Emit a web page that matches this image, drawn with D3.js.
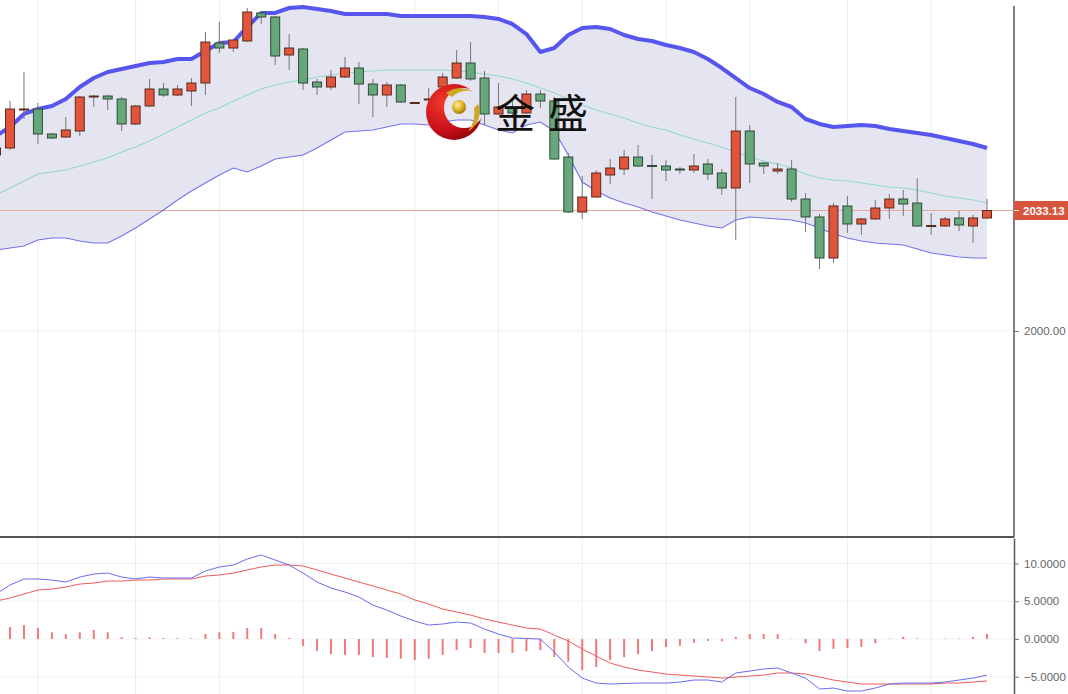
<!DOCTYPE html>
<html><head><meta charset="utf-8">
<script src="https://cdn.jsdelivr.net/npm/d3@7"></script>
<style>html,body{margin:0;padding:0;background:#fff;overflow:hidden}</style>
</head><body><svg id="c" width="1068" height="694"></svg>
<script>
const opens=[2048.39,2050.32,2060.90,2061.04,2054.17,2053.34,2054.99,2064.34,2064.61,2063.79,2056.92,2061.87,2066.54,2064.89,2065.99,2068.19,2079.19,2077.81,2079.74,2087.44,2086.34,2075.89,2077.54,2068.46,2067.09,2069.84,2072.31,2067.91,2064.89,2067.64,2062.69,2063.65,2067.09,2069.56,2073.69,2069.56,2059.67,2061.59,2059.94,2065.16,2063.24,2047.84,2032.72,2036.84,2042.89,2044.54,2047.84,2045.51,2045.37,2044.54,2044.27,2045.92,2043.44,2039.32,2054.99,2046.19,2043.99,2044.54,2036.29,2031.35,2020.07,2034.37,2029.42,2030.80,2033.82,2036.29,2035.19,2028.87,2028.87,2031.07,2028.87,2031.07];
const highs=[2050.87,2063.24,2071.21,2062.69,2054.44,2058.84,2064.61,2064.89,2064.89,2064.34,2062.14,2069.29,2068.19,2067.64,2069.56,2082.21,2084.96,2080.29,2088.81,2087.71,2086.61,2081.66,2077.81,2069.29,2071.76,2075.34,2073.96,2069.29,2068.46,2067.91,2062.97,2066.81,2070.94,2077.26,2079.46,2071.49,2068.19,2063.52,2066.26,2066.26,2064.34,2048.94,2042.62,2044.27,2047.29,2049.77,2051.14,2048.39,2047.02,2045.09,2048.67,2047.29,2044.54,2064.34,2056.64,2046.47,2046.19,2047.02,2037.94,2032.17,2035.19,2037.12,2031.07,2036.02,2037.67,2038.77,2042.07,2032.45,2031.35,2032.99,2031.89,2036.29];
const lows=[2047.84,2049.77,2058.29,2051.42,2052.79,2053.07,2053.62,2061.59,2060.77,2054.99,2056.64,2061.59,2064.34,2064.61,2061.87,2064.89,2076.44,2076.71,2079.46,2084.41,2073.14,2071.76,2066.26,2064.89,2066.26,2069.56,2062.42,2058.84,2061.59,2062.69,2062.42,2062.42,2064.89,2069.29,2068.74,2056.64,2059.39,2058.57,2059.67,2061.32,2047.15,2032.45,2030.80,2036.71,2040.42,2042.89,2045.09,2036.29,2041.24,2043.17,2043.44,2041.52,2037.40,2025.02,2040.69,2043.17,2043.17,2035.47,2027.22,2017.05,2018.70,2026.94,2026.40,2030.66,2030.80,2031.62,2028.73,2026.40,2028.60,2027.50,2024.20,2030.80];
const closes=[2050.32,2061.04,2061.04,2054.17,2053.07,2055.27,2064.34,2064.61,2063.79,2056.92,2061.87,2066.54,2064.89,2066.54,2068.19,2079.46,2077.81,2080.01,2087.71,2086.34,2075.61,2077.81,2068.19,2067.09,2069.84,2072.31,2067.91,2064.89,2067.64,2062.97,2062.83,2063.79,2069.84,2073.69,2069.29,2059.67,2061.59,2059.94,2065.16,2063.24,2047.29,2032.72,2036.84,2043.44,2044.82,2047.84,2045.37,2045.37,2044.27,2044.46,2045.37,2043.17,2039.32,2054.99,2045.92,2045.37,2044.54,2036.29,2031.35,2020.07,2034.37,2029.42,2030.80,2033.82,2036.29,2034.92,2028.87,2029.01,2030.80,2029.14,2031.07,2033.13];
const bollUpper=[2053.62,2056.09,2059.67,2061.04,2061.87,2063.79,2067.09,2069.56,2071.21,2072.04,2072.86,2073.69,2073.96,2074.79,2074.79,2076.99,2079.19,2079.46,2083.59,2087.44,2087.44,2088.81,2089.09,2088.54,2087.99,2087.16,2087.16,2087.16,2087.16,2086.61,2086.61,2086.61,2086.61,2086.61,2086.61,2086.34,2085.79,2084.41,2081.66,2076.71,2077.81,2081.39,2083.31,2083.59,2083.04,2081.39,2080.29,2079.74,2078.64,2077.81,2076.71,2074.79,2072.31,2069.56,2066.81,2065.16,2062.97,2061.59,2058.29,2056.92,2056.09,2056.37,2056.64,2056.37,2055.54,2054.99,2054.44,2053.89,2053.07,2052.24,2051.42,2050.32];
const bollMiddle=[2037.39,2039.32,2041.24,2043.17,2043.72,2044.27,2045.37,2046.47,2047.57,2049.22,2050.59,2052.24,2054.17,2056.09,2058.02,2059.94,2061.32,2063.24,2064.89,2066.54,2067.64,2068.46,2069.01,2069.84,2070.39,2070.94,2071.21,2071.49,2071.76,2071.76,2071.76,2071.76,2071.76,2071.49,2071.21,2070.66,2070.11,2069.29,2068.19,2066.81,2065.44,2063.79,2062.14,2060.77,2059.67,2058.57,2057.19,2056.09,2055.27,2053.89,2052.79,2051.69,2050.59,2049.22,2047.84,2046.74,2045.92,2044.82,2043.17,2042.07,2041.52,2041.24,2040.69,2040.14,2039.59,2039.32,2038.77,2037.94,2037.12,2036.57,2036.02,2035.19];
const bollLower=[2022.27,2022.82,2023.37,2025.02,2025.57,2025.57,2024.74,2024.19,2024.19,2026.12,2028.32,2030.80,2033.27,2036.02,2038.50,2040.69,2042.89,2044.82,2043.72,2045.37,2047.29,2047.84,2048.39,2050.32,2052.52,2054.72,2054.99,2055.27,2056.09,2056.92,2056.92,2056.64,2057.47,2058.02,2058.02,2056.64,2055.27,2054.44,2056.64,2057.47,2054.99,2048.39,2040.97,2038.50,2036.57,2035.19,2034.09,2032.72,2031.62,2030.52,2029.70,2028.87,2028.32,2030.52,2031.35,2031.07,2030.80,2030.52,2029.70,2028.32,2026.67,2025.57,2024.74,2024.19,2023.92,2023.65,2022.55,2021.45,2020.90,2020.35,2020.08,2020.08];
const macdDif=[5.96,7.15,7.95,7.95,7.81,7.55,8.21,8.61,8.74,8.21,7.95,8.21,8.08,8.08,8.08,9.01,9.54,9.80,10.60,11.13,10.46,9.80,8.74,7.55,6.75,6.23,5.56,4.50,3.84,3.05,2.38,1.85,1.99,2.25,2.12,1.32,0.66,0.13,0.07,0.0,-1.72,-3.71,-5.17,-5.83,-5.96,-5.89,-5.83,-5.83,-5.83,-5.70,-5.43,-5.43,-5.70,-4.50,-4.24,-3.97,-3.84,-4.50,-5.17,-6.62,-6.49,-6.89,-6.89,-6.49,-5.96,-5.83,-5.83,-5.83,-5.70,-5.43,-5.17,-4.77];
const macdDea=[5.03,5.43,5.96,6.49,6.62,6.89,7.28,7.42,7.68,7.68,7.81,7.81,7.95,7.95,7.95,8.34,8.48,8.74,9.14,9.54,9.80,9.80,9.67,9.14,8.61,8.08,7.55,7.02,6.49,5.96,5.17,4.64,3.97,3.58,3.18,2.65,2.25,1.85,1.46,1.32,0.53,-0.26,-1.32,-2.25,-3.18,-3.71,-4.11,-4.37,-4.64,-4.77,-4.90,-5.03,-5.17,-5.03,-4.90,-4.77,-4.50,-4.50,-4.64,-5.03,-5.43,-5.70,-5.96,-5.96,-5.96,-5.96,-5.96,-5.96,-5.83,-5.83,-5.70,-5.56];
const macdHist=[1.3,1.6,1.85,1.45,0.9,0.65,0.9,1.2,0.9,0.25,0.13,0.25,0.12,0.1,0.1,0.65,0.9,0.95,1.45,1.45,0.65,0.15,-0.9,-1.6,-2.0,-2.1,-2.1,-2.4,-2.5,-2.6,-2.8,-2.6,-2.1,-1.45,-1.2,-1.85,-1.85,-1.85,-1.6,-1.45,-2.4,-3.0,-4.1,-3.7,-2.8,-2.4,-2.0,-1.6,-1.05,-0.9,-0.5,-0.25,-0.3,0.3,0.65,0.65,0.65,0.05,-0.55,-1.6,-1.3,-1.2,-1.05,-0.55,0.05,0.3,0.07,0.03,0.05,0.05,0.3,0.65];
const gridIdx=[3,10,16,22,30,36,42,48,54,61,67];
const priceTicks=[2000];
const macdTicks=[10,5,0,-5];
const lastPrice=2033.13;
const brandText="金盛";

const svg=d3.select('#c');
const AX=1014, MAIN_B=537, MACD_T=538, H=694;
const idx=d3.range(opens.length);
const x=d3.scaleLinear().domain([1,71]).range([10,987]);
const y=d3.scaleLinear().domain([1943.36,2091.01]).range([MAIN_B,0]);
const ym=d3.scaleLinear().domain([-7.28,13.38]).range([H,MACD_T]);

const defs=svg.append('defs');
defs.append('clipPath').attr('id','cm').append('rect').attr('x',0).attr('y',0).attr('width',AX).attr('height',MAIN_B);
defs.append('clipPath').attr('id','cd').append('rect').attr('x',0).attr('y',MACD_T).attr('width',AX).attr('height',H-MACD_T);

// grids
const gGrid=svg.append('g');
gridIdx.forEach(i=>{
  gGrid.append('line').attr('x1',x(i)).attr('x2',x(i)).attr('y1',0).attr('y2',H).attr('stroke','#e9eef2').attr('stroke-width',1);
});
priceTicks.forEach(p=>gGrid.append('line').attr('x1',0).attr('x2',AX).attr('y1',y(p)).attr('y2',y(p)).attr('stroke','#e9eef2'));
macdTicks.forEach(v=>gGrid.append('line').attr('x1',0).attr('x2',AX).attr('y1',ym(v)).attr('y2',ym(v)).attr('stroke','#eef1f4'));

// main panel
const gm=svg.append('g').attr('clip-path','url(#cm)');
gm.append('path').datum(idx)
  .attr('d',d3.area().x(i=>x(i)).y0(i=>y(bollLower[i])).y1(i=>y(bollUpper[i])))
  .attr('fill','#e5e5f1');
gm.append('line').attr('x1',0).attr('x2',AX).attr('y1',y(lastPrice)).attr('y2',y(lastPrice)).attr('stroke','#e9a898').attr('stroke-width',1);
gm.append('path').datum(idx).attr('d',d3.line().x(i=>x(i)).y(i=>y(bollMiddle[i])))
  .attr('fill','none').attr('stroke','#93d9cc').attr('stroke-width',1.2);
gm.append('path').datum(idx).attr('d',d3.line().x(i=>x(i)).y(i=>y(bollLower[i])))
  .attr('fill','none').attr('stroke','#7272ee').attr('stroke-width',1.1);
gm.append('path').datum(idx).attr('d',d3.line().x(i=>x(i)).y(i=>y(bollUpper[i])))
  .attr('fill','none').attr('stroke','#5656ef').attr('stroke-width',4).attr('stroke-linejoin','round');

const gc=gm.append('g');
idx.forEach(i=>{
  const up=closes[i]>=opens[i];
  gc.append('line').attr('x1',x(i)).attr('x2',x(i)).attr('y1',y(highs[i])).attr('y2',y(lows[i])).attr('stroke','#777').attr('stroke-width',1);
  const t=y(Math.max(opens[i],closes[i])), b=y(Math.min(opens[i],closes[i]));
  gc.append('rect').attr('x',x(i)-4.5).attr('y',t).attr('width',9).attr('height',Math.max(1,b-t))
    .attr('fill',up?'#e0553b':'#67a77c').attr('stroke',up?'#5a2a20':'#2f4a38').attr('stroke-width',1);
});

// logo
const rg=defs.append('radialGradient').attr('id','rg').attr('cx','35%').attr('cy','35%').attr('r','70%');
rg.append('stop').attr('offset','0%').attr('stop-color','#f03a2a');
rg.append('stop').attr('offset','60%').attr('stop-color','#c8101a');
rg.append('stop').attr('offset','100%').attr('stop-color','#7a0008');
const gg=defs.append('radialGradient').attr('id','gg').attr('cx','40%').attr('cy','35%').attr('r','65%');
gg.append('stop').attr('offset','0%').attr('stop-color','#fff3a0');
gg.append('stop').attr('offset','60%').attr('stop-color','#d8b020');
gg.append('stop').attr('offset','100%').attr('stop-color','#9a7a10');
const mk=defs.append('mask').attr('id','mk');
mk.append('rect').attr('x',0).attr('y',0).attr('width',1068).attr('height',694).attr('fill','#000');
mk.append('circle').attr('cx',454).attr('cy',112).attr('r',28).attr('fill','#fff');
mk.append('circle').attr('cx',464).attr('cy',108).attr('r',20).attr('fill','#000');
const gl=svg.append('g');
gl.append('rect').attr('x',420).attr('y',80).attr('width',70).attr('height',65).attr('fill','url(#rg)').attr('mask','url(#mk)');
gl.append('path').attr('d','M446,93 Q458,84 474,92 Q462,88 452,97 Z').attr('fill','#d0a828');
gl.append('path').attr('d','M478,104 Q484,120 468,132 Q476,120 474,108 Z').attr('fill','#d0a828');
gl.append('circle').attr('cx',459).attr('cy',107).attr('r',7).attr('fill','url(#gg)');
gl.append('text').attr('x',495).attr('y',128).attr('font-family','"Noto Sans CJK SC"').attr('font-size',40)
  .attr('letter-spacing',13).attr('fill','#111').text(brandText);

// macd panel
const gd=svg.append('g').attr('clip-path','url(#cd)');
idx.forEach(i=>{
  gd.append('line').attr('x1',x(i)).attr('x2',x(i)).attr('y1',ym(0)).attr('y2',ym(macdHist[i])).attr('stroke','#f07878').attr('stroke-width',2);
});
gd.append('path').datum(idx).attr('d',d3.line().x(i=>x(i)).y(i=>ym(macdDea[i])))
  .attr('fill','none').attr('stroke','#f05a5a').attr('stroke-width',1);
gd.append('path').datum(idx).attr('d',d3.line().x(i=>x(i)).y(i=>ym(macdDif[i])))
  .attr('fill','none').attr('stroke','#6a6af2').attr('stroke-width',1);

// separator
svg.append('line').attr('x1',0).attr('x2',AX).attr('y1',MAIN_B).attr('y2',MAIN_B).attr('stroke','#555').attr('stroke-width',2);

// axes
const ya=svg.append('g').attr('transform',`translate(${AX},0)`)
  .call(d3.axisRight(y).tickValues(priceTicks).tickFormat(d3.format('.2f')).tickSize(5).tickSizeOuter(0).tickPadding(5));
const ma=svg.append('g').attr('transform',`translate(${AX},0)`)
  .call(d3.axisRight(ym).tickValues(macdTicks).tickFormat(d3.format('.4f')).tickSize(5).tickSizeOuter(0).tickPadding(5));
[ya,ma].forEach(g=>{
  g.select('.domain').attr('stroke','#555').attr('stroke-width',1.5);
  g.selectAll('.tick line').attr('stroke','#777');
  g.selectAll('.tick text').attr('fill','#666').attr('font-size',11.5).attr('font-family','"Liberation Sans", Arial, sans-serif');
});
ya.select('.domain').attr('d','M0,6V537');

// last price label
const lp=svg.append('g').attr('transform',`translate(${AX},${y(lastPrice)})`);
lp.append('rect').attr('x',0).attr('y',-9.5).attr('width',60).attr('height',19).attr('fill','#d9543c');
lp.append('line').attr('x1',0).attr('x2',5).attr('y1',0).attr('y2',0).attr('stroke','#fff');
lp.append('text').attr('x',9).attr('y',4.5).attr('fill','#fff').attr('font-weight','bold').attr('font-size',11.5)
  .attr('font-family','"Liberation Sans", Arial, sans-serif').text(d3.format('.2f')(lastPrice));
</script></body></html>
